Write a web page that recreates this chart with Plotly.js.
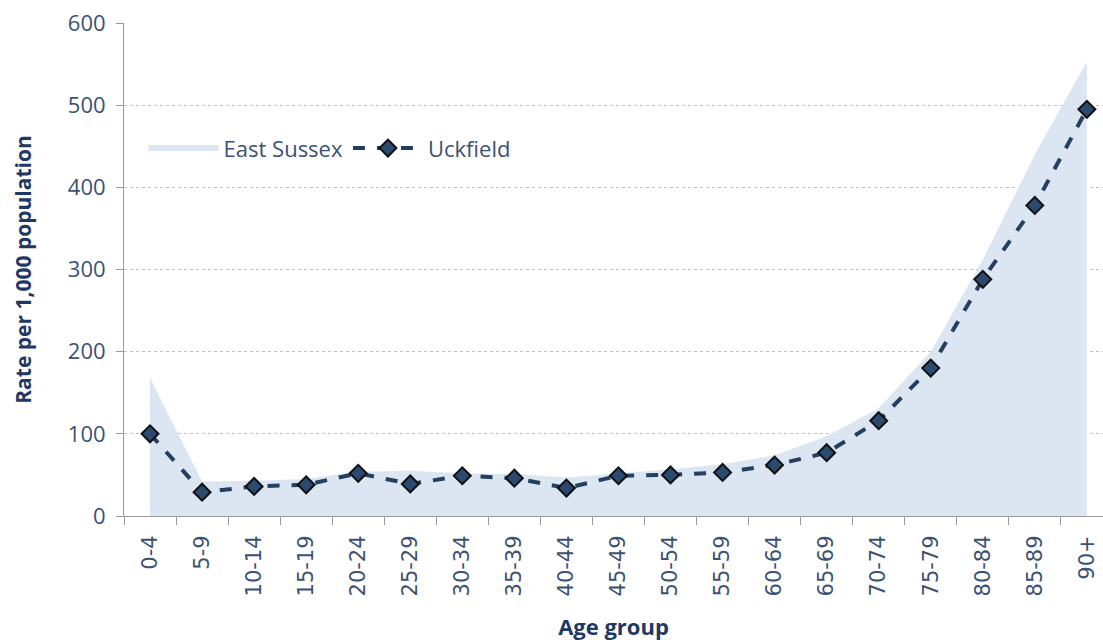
<!DOCTYPE html>
<html>
<head>
<meta charset="utf-8">
<script src="https://cdn.plot.ly/plotly-3.0.1.min.js"></script>
<style>
  html, body { margin: 0; padding: 0; background: #fff; }
  #chart { width: 1103px; height: 644px; }
</style>
</head>
<body>
<div id="chart"></div>
<script>
// age groups and rates per 1,000 population
var ageGroups = ["0-4", "5-9", "10-14", "15-19", "20-24", "25-29", "30-34", "35-39", "40-44",
  "45-49", "50-54", "55-59", "60-64", "65-69", "70-74", "75-79", "80-84", "85-89", "90+"];
var eastSussex = [168, 42, 43, 45, 54, 55, 52, 51, 47, 52, 57, 63, 74, 97, 131, 200, 312, 440, 553];
var uckfield = [100, 29, 36, 38, 52, 39, 49, 46, 34, 49, 50, 53, 62, 77, 116, 180, 288, 378, 495];

var navy = "#243f60";
var tickColor = "#3b5274";

var areaTrace = {
  x: ageGroups,
  y: eastSussex,
  name: "East Sussex",
  type: "scatter",
  mode: "none",
  fill: "tozeroy",
  fillcolor: "#dce6f2"
};

var lineTrace = {
  x: ageGroups,
  y: uckfield,
  name: "Uckfield",
  type: "scatter",
  mode: "lines+markers",
  line: { color: navy, width: 4, dash: "dash" },
  marker: { symbol: "diamond", size: 13, color: "#2b4a70", line: { color: "#111", width: 2 } }
};

var layout = {
  width: 1103,
  height: 644,
  margin: { l: 124, r: 0, t: 23, b: 128 },
  paper_bgcolor: "#fff",
  plot_bgcolor: "#fff",
  font: { family: "Open Sans, sans-serif", color: tickColor },
  showlegend: true,
  legend: {
    orientation: "h",
    x: 0.02, y: 0.746,
    xanchor: "left", yanchor: "middle",
    itemwidth: 70,
    font: { size: 22, color: tickColor },
    bgcolor: "rgba(0,0,0,0)"
  },
  xaxis: {
    type: "category",
    range: [-0.5, 18.31],
    tickangle: -90,
    tickson: "boundaries",
    ticks: "outside",
    ticklen: 8,
    tickcolor: "#999",
    ticklabelstandoff: 10,
    showline: true,
    linecolor: "#999",
    linewidth: 1,
    showgrid: false,
    tickfont: { size: 21, color: tickColor, family: "DejaVu Sans" },
    title: { text: "Age group", font: { size: 22, color: "#1f3864", family: "Open Sans, sans-serif", weight: "bold" }, standoff: 24 }
  },
  yaxis: {
    range: [0, 600],
    dtick: 100,
    ticks: "outside",
    ticklen: 7,
    tickcolor: "#999",
    ticklabelstandoff: 6,
    showline: true,
    linecolor: "#999",
    linewidth: 1,
    showgrid: true,
    gridcolor: "#c0c0c0",
    griddash: "dot",
    gridwidth: 1,
    zeroline: false,
    tickfont: { size: 22, color: tickColor },
    title: { text: "Rate per 1,000 population", font: { size: 21, color: "#1f3864", family: "Open Sans, sans-serif", weight: "bold" }, standoff: 30 }
  }
};

Plotly.newPlot("chart", [areaTrace, lineTrace], layout, { displayModeBar: false });
</script>
</body>
</html>
